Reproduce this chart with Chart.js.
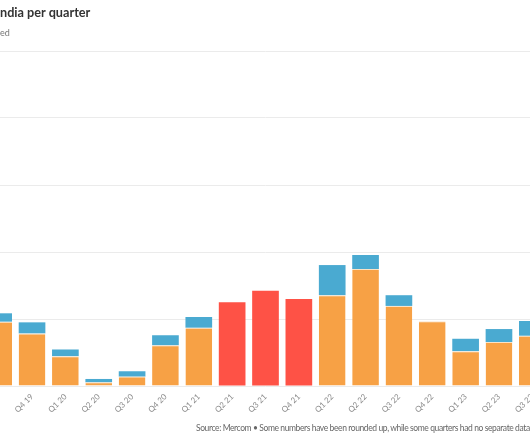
<!DOCTYPE html>
<html>
<head>
<meta charset="utf-8">
<script src="https://cdn.jsdelivr.net/npm/chart.js@4/dist/chart.umd.min.js"></script>
<style>
    html, body { margin: 0; padding: 0; background: #fff; }
    #frame { position: relative; width: 530px; height: 442px; overflow: hidden; font-family: Lato, sans-serif; }
    #chartBox { position: absolute; left: -18px; top: 0; width: 567px; height: 442px; }
    .title { position: absolute; left: 0; top: 4px; font-size: 12.7px; font-weight: 700; color: #333; white-space: nowrap; }
    .subtitle { position: absolute; left: 0; top: 27px; font-size: 9px; color: #777; white-space: nowrap; }
    .source { position: absolute; left: 196px; top: 423px; font-size: 8.5px; letter-spacing: -0.4px; color: #666; white-space: nowrap; }
</style>
</head>
<body>
<div id="frame">
    <div id="chartBox"><canvas id="installChart"></canvas></div>
    <div class="title">ndia per quarter</div>
    <div class="subtitle">ed</div>
    <div class="source">Source: Mercom &bull; Some numbers have been rounded up, while some quarters had no separate data distinction</div>
</div>
<script>
// Données (MW)
const quarters = ['Q3 19', 'Q4 19', 'Q1 20', 'Q2 20', 'Q3 20', 'Q4 20', 'Q1 21', 'Q2 21', 'Q3 21',
    'Q4 21', 'Q1 22', 'Q2 22', 'Q3 22', 'Q4 22', 'Q1 23', 'Q2 23', 'Q3 23'];
const largeScale = [1920, 1570, 890, 110, 280, 1215, 1740, null, null,
    null, 2710, 3490, 2390, 1930, 1040, 1310, 1500];
const rooftop = [250, 330, 200, 100, 160, 300, 320, null, null,
    null, 900, 420, 320, null, 370, 390, 440];
const totalOnly = [null, null, null, null, null, null, null, 2500, 2840,
    2600, null, null, null, null, null, null, null];
const yTicks = [0, 2000, 4000, 6000, 8000, 10000];

const ctx = document.getElementById('installChart');

new Chart(ctx, {
    type: 'bar',
    data: {
        labels: quarters,
        datasets: [
            {
                label: 'Large-scale',
                data: largeScale,
                backgroundColor: '#f7a145',
                borderColor: '#fbe3c6',
                borderWidth: { top: 1, right: 0, bottom: 0, left: 0 },
                borderSkipped: false
            },
            {
                label: 'Rooftop',
                data: rooftop,
                backgroundColor: '#4aaad1'
            },
            {
                label: 'Total',
                data: totalOnly,
                backgroundColor: '#fe5246'
            }
        ]
    },
    options: {
        responsive: true,
        maintainAspectRatio: false,
        animation: false,
        layout: { padding: { top: 51, left: 0, right: 0, bottom: 0 } },
        barPercentage: 0.8,
        categoryPercentage: 1.0,
        plugins: {
            legend: { display: false },
            tooltip: { enabled: false }
        },
        scales: {
            x: {
                stacked: true,
                grid: { display: false, drawTicks: false },
                border: { display: false },
                ticks: {
                    color: '#8a8a8a',
                    font: { family: 'Lato', size: 8 },
                    minRotation: 45,
                    maxRotation: 45,
                    padding: 6,
                    autoSkip: false
                },
                afterFit: (scale) => {
                    scale.height = 56;
                    scale.paddingLeft = 0;
                    scale.paddingRight = 0;
                }
            },
            y: {
                stacked: true,
                min: yTicks[0],
                max: yTicks[yTicks.length - 1],
                afterBuildTicks: (scale) => {
                    scale.ticks = yTicks.map(v => ({ value: v }));
                },
                grid: { color: '#ebebeb', lineWidth: 1, drawTicks: false },
                border: { display: false },
                ticks: { display: false },
                afterFit: (scale) => {
                    scale.width = 0;
                }
            }
        }
    }
});
</script>
</body>
</html>
